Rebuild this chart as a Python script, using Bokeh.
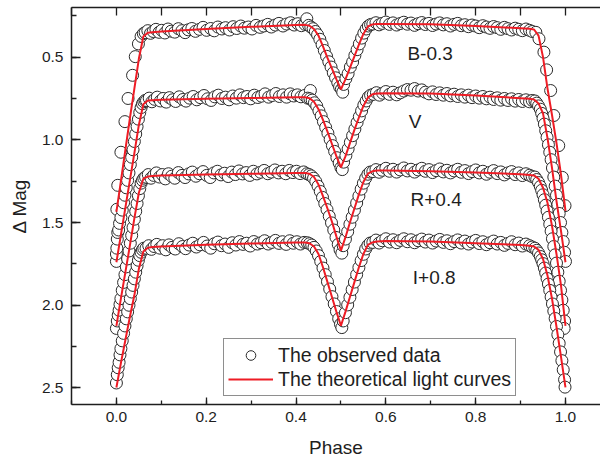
from bokeh.plotting import figure
from bokeh.models import (Range1d, LinearAxis, SingleIntervalTicker, FixedTicker, Legend,
                          LegendItem, Label, PrintfTickFormatter)
from bokeh.embed import file_html
from bokeh.resources import INLINE

# ---------------- theoretical light curves ----------------
fit_phase = [0.000, 0.010, 0.020, 0.030, 0.040, 0.050, 0.060, 0.070, 0.080, 0.100, 0.200, 0.300,
             0.400, 0.420, 0.430, 0.440, 0.450, 0.460, 0.470, 0.480, 0.490, 0.500, 0.510, 0.520,
             0.530, 0.540, 0.550, 0.560, 0.570, 0.580, 0.600, 0.700, 0.800, 0.900, 0.920, 0.930,
             0.940, 0.950, 0.960, 0.970, 0.980, 0.990, 1.000]
fit_B = [1.435, 1.250, 1.060, 0.870, 0.690, 0.510, 0.375, 0.352, 0.349, 0.345, 0.330, 0.317,
         0.306, 0.305, 0.310, 0.330, 0.370, 0.435, 0.505, 0.570, 0.635, 0.695, 0.635, 0.565,
         0.495, 0.425, 0.360, 0.315, 0.302, 0.300, 0.299, 0.302, 0.312, 0.325, 0.329, 0.333,
         0.370, 0.500, 0.690, 0.850, 1.020, 1.210, 1.430]
fit_V = [1.740, 1.575, 1.410, 1.245, 1.080, 0.910, 0.785, 0.762, 0.760, 0.758, 0.752, 0.747,
         0.743, 0.743, 0.748, 0.770, 0.815, 0.880, 0.950, 1.025, 1.100, 1.166, 1.100, 1.020,
         0.940, 0.865, 0.795, 0.745, 0.725, 0.720, 0.718, 0.720, 0.732, 0.748, 0.752, 0.756,
         0.780, 0.840, 0.990, 1.170, 1.370, 1.550, 1.740]
fit_R = [2.125, 1.960, 1.800, 1.640, 1.475, 1.320, 1.235, 1.222, 1.218, 1.215, 1.210, 1.205,
         1.200, 1.200, 1.205, 1.225, 1.270, 1.340, 1.415, 1.495, 1.585, 1.670, 1.590, 1.500,
         1.415, 1.330, 1.255, 1.205, 1.190, 1.186, 1.185, 1.190, 1.198, 1.208, 1.212, 1.215,
         1.235, 1.290, 1.380, 1.520, 1.690, 1.880, 2.125]
fit_I = [2.497, 2.350, 2.210, 2.070, 1.940, 1.780, 1.675, 1.652, 1.648, 1.645, 1.635, 1.627,
         1.620, 1.620, 1.625, 1.645, 1.690, 1.770, 1.860, 1.950, 2.040, 2.124, 2.040, 1.950,
         1.860, 1.770, 1.690, 1.635, 1.620, 1.615, 1.612, 1.615, 1.625, 1.636, 1.640, 1.645,
         1.665, 1.720, 1.820, 1.960, 2.130, 2.310, 2.497]

# ---------------- observed data (phase, magnitude incl. offset) ----------------
obs_B = [
    (0.001, 1.420), (0.003, 1.275), (0.010, 1.075), (0.019, 0.890), (0.026, 0.750), (0.036, 0.610),
    (0.042, 0.497), (0.049, 0.420), (0.055, 0.375), (0.060, 0.358),
    (0.064, 0.352), (0.070, 0.340), (0.076, 0.356), (0.082, 0.345), (0.088, 0.332), (0.095, 0.350),
    (0.101, 0.338), (0.108, 0.354), (0.115, 0.330), (0.122, 0.343), (0.130, 0.349), (0.138, 0.328),
    (0.146, 0.340), (0.153, 0.352), (0.160, 0.335), (0.168, 0.327), (0.176, 0.344), (0.185, 0.332),
    (0.193, 0.320), (0.201, 0.338), (0.210, 0.327), (0.218, 0.341), (0.226, 0.318), (0.235, 0.330),
    (0.243, 0.322), (0.252, 0.336), (0.260, 0.316), (0.268, 0.327), (0.277, 0.312), (0.285, 0.325),
    (0.294, 0.318), (0.302, 0.330), (0.311, 0.308), (0.320, 0.320), (0.328, 0.312), (0.337, 0.302),
    (0.345, 0.318), (0.354, 0.306), (0.362, 0.296), (0.371, 0.312), (0.379, 0.300), (0.388, 0.292),
    (0.396, 0.306), (0.404, 0.298), (0.412, 0.310), (0.420, 0.302), (0.424, 0.268),
    (0.428, 0.308), (0.433, 0.318), (0.438, 0.328), (0.443, 0.345), (0.448, 0.365), (0.453, 0.392),
    (0.458, 0.425), (0.463, 0.460), (0.468, 0.495), (0.473, 0.528), (0.478, 0.560), (0.483, 0.595),
    (0.488, 0.625), (0.493, 0.655), (0.497, 0.680), (0.501, 0.695), (0.504, 0.712), (0.506, 0.665),
    (0.511, 0.630), (0.516, 0.600), (0.521, 0.560), (0.526, 0.530), (0.531, 0.490), (0.536, 0.455),
    (0.541, 0.420), (0.546, 0.385), (0.551, 0.355), (0.556, 0.330), (0.561, 0.312), (0.566, 0.303),
    (0.571, 0.300), (0.578, 0.292), (0.585, 0.305), (0.592, 0.296), (0.600, 0.288), (0.608, 0.302),
    (0.616, 0.293), (0.624, 0.306), (0.632, 0.297), (0.640, 0.289), (0.648, 0.301), (0.656, 0.294),
    (0.664, 0.308), (0.672, 0.298), (0.680, 0.291), (0.688, 0.303), (0.696, 0.296), (0.704, 0.309),
    (0.712, 0.300), (0.720, 0.293), (0.728, 0.305), (0.736, 0.298), (0.744, 0.312), (0.752, 0.302),
    (0.760, 0.296), (0.768, 0.310), (0.776, 0.304), (0.784, 0.316), (0.792, 0.306), (0.800, 0.312),
    (0.808, 0.322), (0.816, 0.310), (0.824, 0.318), (0.832, 0.326), (0.840, 0.315), (0.848, 0.322),
    (0.856, 0.332), (0.864, 0.320), (0.872, 0.328), (0.880, 0.336), (0.888, 0.325), (0.896, 0.332),
    (0.904, 0.340), (0.912, 0.330), (0.920, 0.338), (0.926, 0.345),
    (0.934, 0.350), (0.941, 0.389), (0.952, 0.470), (0.958, 0.577), (0.967, 0.702), (0.974, 0.853),
    (0.985, 1.035), (0.993, 1.227), (0.999, 1.398),
]
obs_V = [
    (0.000, 1.735), (0.000, 1.690), (0.001, 1.655), (0.002, 1.600), (0.003, 1.560), (0.005, 1.545),
    (0.007, 1.505), (0.010, 1.470), (0.013, 1.425), (0.016, 1.380), (0.019, 1.335), (0.022, 1.290),
    (0.025, 1.245), (0.028, 1.200), (0.031, 1.150), (0.034, 1.105), (0.037, 1.060), (0.040, 1.010),
    (0.043, 0.965), (0.046, 0.920), (0.049, 0.875), (0.052, 0.835), (0.055, 0.805), (0.058, 0.782),
    (0.061, 0.770), (0.064, 0.762),
    (0.067, 0.762), (0.073, 0.748), (0.079, 0.770), (0.085, 0.755), (0.091, 0.742), (0.098, 0.765),
    (0.104, 0.750), (0.111, 0.772), (0.118, 0.745), (0.125, 0.758), (0.132, 0.768), (0.140, 0.740),
    (0.148, 0.756), (0.155, 0.766), (0.163, 0.748), (0.171, 0.738), (0.179, 0.758), (0.187, 0.745),
    (0.195, 0.732), (0.203, 0.752), (0.211, 0.762), (0.219, 0.740), (0.227, 0.730), (0.235, 0.750),
    (0.243, 0.742), (0.251, 0.758), (0.259, 0.735), (0.267, 0.748), (0.275, 0.728), (0.283, 0.745),
    (0.291, 0.738), (0.299, 0.752), (0.307, 0.730), (0.315, 0.744), (0.323, 0.736), (0.331, 0.722),
    (0.339, 0.742), (0.347, 0.732), (0.355, 0.720), (0.363, 0.738), (0.371, 0.728), (0.379, 0.742),
    (0.387, 0.722), (0.395, 0.735), (0.403, 0.728), (0.411, 0.740), (0.419, 0.732), (0.432, 0.702),
    (0.426, 0.748), (0.431, 0.752), (0.436, 0.760), (0.441, 0.776), (0.446, 0.795), (0.451, 0.825),
    (0.456, 0.855), (0.461, 0.890), (0.466, 0.925), (0.471, 0.960), (0.476, 0.998), (0.481, 1.035),
    (0.486, 1.070), (0.491, 1.108), (0.496, 1.140), (0.500, 1.168), (0.503, 1.180), (0.506, 1.135),
    (0.511, 1.095), (0.516, 1.055), (0.521, 1.015), (0.526, 0.975), (0.531, 0.935), (0.536, 0.895),
    (0.541, 0.860), (0.546, 0.825), (0.551, 0.790), (0.556, 0.765), (0.561, 0.742), (0.566, 0.730),
    (0.572, 0.725), (0.579, 0.715), (0.586, 0.730), (0.593, 0.718), (0.600, 0.708), (0.608, 0.725),
    (0.616, 0.712), (0.624, 0.728), (0.632, 0.716), (0.640, 0.705), (0.648, 0.696), (0.656, 0.700),
    (0.664, 0.690), (0.672, 0.705), (0.680, 0.698), (0.688, 0.712), (0.696, 0.722), (0.704, 0.710),
    (0.712, 0.726), (0.720, 0.716), (0.728, 0.730), (0.736, 0.720), (0.744, 0.734), (0.752, 0.724),
    (0.760, 0.738), (0.768, 0.728), (0.776, 0.742), (0.784, 0.730), (0.792, 0.745), (0.800, 0.735),
    (0.808, 0.748), (0.816, 0.738), (0.824, 0.752), (0.832, 0.742), (0.840, 0.756), (0.848, 0.746),
    (0.856, 0.760), (0.864, 0.750), (0.872, 0.762), (0.880, 0.752), (0.888, 0.766), (0.896, 0.756),
    (0.904, 0.768), (0.912, 0.758), (0.920, 0.770), (0.926, 0.762),
    (0.932, 0.765), (0.936, 0.778), (0.940, 0.795), (0.944, 0.815), (0.947, 0.840), (0.950, 0.870),
    (0.953, 0.905), (0.956, 0.945), (0.959, 0.985), (0.962, 1.030), (0.965, 1.075), (0.968, 1.120),
    (0.971, 1.170), (0.974, 1.225), (0.977, 1.280), (0.980, 1.335), (0.983, 1.390), (0.986, 1.445),
    (0.989, 1.500), (0.992, 1.560), (0.995, 1.615), (0.998, 1.680), (1.000, 1.735),
]
obs_R = [
    (0.000, 2.140), (0.002, 2.095), (0.004, 2.060), (0.006, 2.030), (0.008, 1.995), (0.010, 1.960),
    (0.013, 1.910), (0.016, 1.862), (0.019, 1.815), (0.022, 1.768), (0.025, 1.720), (0.028, 1.672),
    (0.031, 1.625), (0.034, 1.578), (0.037, 1.530), (0.040, 1.480), (0.043, 1.432), (0.046, 1.385),
    (0.049, 1.338), (0.052, 1.295), (0.055, 1.262), (0.058, 1.245), (0.061, 1.232),
    (0.065, 1.225), (0.071, 1.210), (0.077, 1.232), (0.083, 1.215), (0.089, 1.200), (0.096, 1.225),
    (0.102, 1.210), (0.109, 1.236), (0.116, 1.205), (0.123, 1.220), (0.130, 1.232), (0.138, 1.198),
    (0.146, 1.215), (0.153, 1.228), (0.161, 1.206), (0.169, 1.195), (0.177, 1.220), (0.185, 1.205),
    (0.193, 1.192), (0.201, 1.215), (0.209, 1.228), (0.217, 1.200), (0.225, 1.190), (0.233, 1.212),
    (0.241, 1.202), (0.249, 1.222), (0.257, 1.195), (0.265, 1.210), (0.273, 1.188), (0.281, 1.206),
    (0.289, 1.198), (0.297, 1.215), (0.305, 1.190), (0.313, 1.206), (0.321, 1.196), (0.329, 1.185),
    (0.337, 1.205), (0.345, 1.195), (0.353, 1.182), (0.361, 1.200), (0.369, 1.190), (0.377, 1.205),
    (0.385, 1.185), (0.393, 1.198), (0.401, 1.190), (0.409, 1.204), (0.417, 1.194),
    (0.424, 1.205), (0.429, 1.210), (0.434, 1.218), (0.439, 1.232), (0.444, 1.252), (0.449, 1.280),
    (0.454, 1.312), (0.459, 1.348), (0.464, 1.385), (0.469, 1.422), (0.474, 1.462), (0.479, 1.502),
    (0.484, 1.545), (0.489, 1.590), (0.494, 1.632), (0.498, 1.665), (0.502, 1.685), (0.505, 1.640),
    (0.510, 1.600), (0.515, 1.555), (0.520, 1.510), (0.525, 1.468), (0.530, 1.425), (0.535, 1.382),
    (0.540, 1.340), (0.545, 1.298), (0.550, 1.262), (0.555, 1.232), (0.560, 1.208), (0.565, 1.195),
    (0.571, 1.192), (0.578, 1.180), (0.585, 1.196), (0.592, 1.184), (0.600, 1.172), (0.608, 1.190),
    (0.616, 1.178), (0.624, 1.195), (0.632, 1.182), (0.640, 1.170), (0.648, 1.188), (0.656, 1.178),
    (0.664, 1.195), (0.672, 1.182), (0.680, 1.172), (0.688, 1.190), (0.696, 1.180), (0.704, 1.198),
    (0.712, 1.186), (0.720, 1.176), (0.728, 1.194), (0.736, 1.184), (0.744, 1.200), (0.752, 1.188),
    (0.760, 1.178), (0.768, 1.196), (0.776, 1.186), (0.784, 1.204), (0.792, 1.192), (0.800, 1.182),
    (0.808, 1.200), (0.816, 1.190), (0.824, 1.208), (0.832, 1.196), (0.840, 1.186), (0.848, 1.204),
    (0.856, 1.194), (0.864, 1.212), (0.872, 1.200), (0.880, 1.192), (0.888, 1.210), (0.896, 1.200),
    (0.904, 1.216), (0.912, 1.205), (0.920, 1.214), (0.926, 1.222),
    (0.932, 1.225), (0.936, 1.240), (0.940, 1.258), (0.944, 1.282), (0.947, 1.305), (0.950, 1.332),
    (0.953, 1.362), (0.956, 1.395), (0.959, 1.430), (0.962, 1.468), (0.965, 1.510), (0.968, 1.552),
    (0.971, 1.598), (0.974, 1.645), (0.977, 1.695), (0.980, 1.745), (0.983, 1.800), (0.986, 1.855),
    (0.989, 1.910), (0.992, 1.968), (0.995, 2.030), (0.998, 2.095), (0.997, 2.140),
]
obs_I = [
    (0.000, 2.470), (0.002, 2.420), (0.004, 2.378), (0.006, 2.345), (0.008, 2.300), (0.010, 2.262),
    (0.013, 2.215), (0.016, 2.170), (0.019, 2.125), (0.022, 2.082), (0.025, 2.040), (0.028, 2.000),
    (0.031, 1.960), (0.034, 1.920), (0.037, 1.880), (0.040, 1.840), (0.043, 1.800), (0.046, 1.762),
    (0.049, 1.728), (0.052, 1.700), (0.055, 1.680), (0.058, 1.665), (0.061, 1.655),
    (0.066, 1.655), (0.072, 1.640), (0.078, 1.662), (0.084, 1.645), (0.090, 1.632), (0.097, 1.655),
    (0.103, 1.640), (0.110, 1.665), (0.117, 1.635), (0.124, 1.650), (0.131, 1.660), (0.139, 1.628),
    (0.147, 1.645), (0.154, 1.658), (0.162, 1.636), (0.170, 1.625), (0.178, 1.648), (0.186, 1.635),
    (0.194, 1.620), (0.202, 1.642), (0.210, 1.655), (0.218, 1.628), (0.226, 1.618), (0.234, 1.640),
    (0.242, 1.630), (0.250, 1.650), (0.258, 1.622), (0.266, 1.636), (0.274, 1.615), (0.282, 1.632),
    (0.290, 1.625), (0.298, 1.642), (0.306, 1.615), (0.314, 1.630), (0.322, 1.622), (0.330, 1.610),
    (0.338, 1.630), (0.346, 1.620), (0.354, 1.608), (0.362, 1.626), (0.370, 1.616), (0.378, 1.632),
    (0.386, 1.610), (0.394, 1.625), (0.402, 1.616), (0.410, 1.630), (0.418, 1.620),
    (0.425, 1.622), (0.430, 1.628), (0.435, 1.636), (0.440, 1.650), (0.445, 1.672), (0.450, 1.700),
    (0.455, 1.735), (0.460, 1.775), (0.465, 1.815), (0.470, 1.858), (0.475, 1.902), (0.480, 1.948),
    (0.485, 1.992), (0.490, 2.038), (0.495, 2.082), (0.499, 2.115), (0.502, 2.135), (0.505, 2.095),
    (0.510, 2.045), (0.515, 1.998), (0.520, 1.952), (0.525, 1.905), (0.530, 1.860), (0.535, 1.815),
    (0.540, 1.772), (0.545, 1.730), (0.550, 1.692), (0.555, 1.660), (0.560, 1.638), (0.565, 1.624),
    (0.571, 1.620), (0.578, 1.606), (0.585, 1.624), (0.592, 1.610), (0.600, 1.598), (0.608, 1.618),
    (0.616, 1.604), (0.624, 1.622), (0.632, 1.608), (0.640, 1.598), (0.648, 1.616), (0.656, 1.604),
    (0.664, 1.622), (0.672, 1.610), (0.680, 1.600), (0.688, 1.618), (0.696, 1.606), (0.704, 1.624),
    (0.712, 1.612), (0.720, 1.602), (0.728, 1.620), (0.736, 1.610), (0.744, 1.628), (0.752, 1.615),
    (0.760, 1.605), (0.768, 1.624), (0.776, 1.612), (0.784, 1.630), (0.792, 1.618), (0.800, 1.608),
    (0.808, 1.627), (0.816, 1.616), (0.824, 1.634), (0.832, 1.622), (0.840, 1.612), (0.848, 1.630),
    (0.856, 1.620), (0.864, 1.638), (0.872, 1.626), (0.880, 1.616), (0.888, 1.634), (0.896, 1.624),
    (0.904, 1.642), (0.912, 1.630), (0.920, 1.640), (0.926, 1.648),
    (0.932, 1.655), (0.936, 1.668), (0.940, 1.684), (0.944, 1.705), (0.947, 1.725), (0.950, 1.748),
    (0.953, 1.775), (0.956, 1.805), (0.959, 1.838), (0.962, 1.872), (0.965, 1.910), (0.968, 1.950),
    (0.971, 1.992), (0.974, 2.035), (0.977, 2.080), (0.980, 2.128), (0.983, 2.178), (0.986, 2.230),
    (0.989, 2.282), (0.992, 2.335), (0.995, 2.390), (0.998, 2.450), (0.999, 2.495),
]

band_labels = ["B-0.3", "V", "R+0.4", "I+0.8"]
x_tick_step = 0.2
y_tick_step = 0.5

FONT = "Liberation Sans"
INK = "#1e1e1e"
RED = "#ee1c25"

p = figure(width=600, height=462, x_range=Range1d(-0.1, 1.078), y_range=Range1d(2.6, 0.2),
           output_backend="svg", toolbar_location=None,
           min_border_left=71, min_border_right=0, min_border_top=7, min_border_bottom=58)
p.outline_line_color = None
p.xgrid.visible = False
p.ygrid.visible = False
p.background_fill_color = "white"
p.border_fill_color = "white"

# axes
p.xaxis.ticker = SingleIntervalTicker(interval=x_tick_step, num_minor_ticks=2)
p.yaxis.ticker = SingleIntervalTicker(interval=y_tick_step, num_minor_ticks=2)
p.xaxis.formatter = PrintfTickFormatter(format="%.1f")
p.yaxis.formatter = PrintfTickFormatter(format="%.1f")
for ax in (p.xaxis[0], p.yaxis[0]):
    ax.axis_line_color = INK
    ax.axis_line_width = 1.5
    ax.major_tick_line_color = INK
    ax.minor_tick_line_color = INK
    ax.major_tick_line_width = 1.3
    ax.minor_tick_line_width = 1.3
    ax.major_tick_out = 0
    ax.minor_tick_out = 0
    ax.major_label_text_font = FONT
    ax.major_label_text_font_size = "15.5px"
    ax.major_label_text_color = INK
    ax.axis_label_text_font = FONT
    ax.axis_label_text_font_size = "19px"
    ax.axis_label_text_font_style = "normal"
    ax.axis_label_text_color = INK
p.xaxis.major_tick_in = 7
p.xaxis.minor_tick_in = 4
p.yaxis.major_tick_in = 9
p.yaxis.minor_tick_in = 5
p.xaxis.major_label_standoff = 7
p.yaxis.major_label_standoff = 8
p.xaxis.axis_label = "Phase"
p.yaxis.axis_label = "\u0394 Mag"
p.xaxis.axis_label_standoff = 12
p.yaxis.axis_label_standoff = 9

# top axis: ticks only, no labels
top_ticks = [i / 10 for i in range(-1, 11)]
top = LinearAxis(ticker=FixedTicker(ticks=[], minor_ticks=top_ticks),
                 minor_tick_in=8, minor_tick_out=0, major_tick_in=0, major_tick_out=0,
                 axis_line_color=INK, axis_line_width=1.5, minor_tick_line_color=INK,
                 minor_tick_line_width=1.3, major_label_standoff=0)
p.add_layout(top, "above")

# observed data
obs_renderers = []
for obs in (obs_B, obs_V, obs_R, obs_I):
    xs = [o[0] for o in obs]
    ys = [o[1] for o in obs]
    r = p.scatter(xs, ys, marker="circle", size=12, fill_color="white",
                  line_color="#2a2a2a", line_width=1)
    obs_renderers.append(r)

# theoretical curves
fit_renderers = []
for fit in (fit_B, fit_V, fit_R, fit_I):
    r = p.line(fit_phase, fit, line_color=RED, line_width=2)
    fit_renderers.append(r)

# band labels
label_pos = [(0.648, 0.477), (0.651, 0.889), (0.655, 1.362), (0.660, 1.835)]
for txt, (lx, ly) in zip(band_labels, label_pos):
    p.add_layout(Label(x=lx, y=ly, text=txt, text_font=FONT, text_font_size="19px",
                       text_color=INK, text_baseline="middle", text_align="left"))

legend = Legend(items=[LegendItem(label="The observed data", renderers=[obs_renderers[0]]),
                       LegendItem(label="The theoretical light curves", renderers=[fit_renderers[0]])],
                location=(152, 8), orientation="vertical",
                border_line_color=INK, border_line_width=1, background_fill_color="white",
                background_fill_alpha=1.0, label_text_font=FONT, label_text_font_size="19.5px",
                label_text_color=INK, glyph_width=45, glyph_height=24, label_height=24,
                spacing=0, padding=4, margin=0, label_standoff=5)
p.add_layout(legend, "center")

open("out.html", "w").write(file_html(p, INLINE))
